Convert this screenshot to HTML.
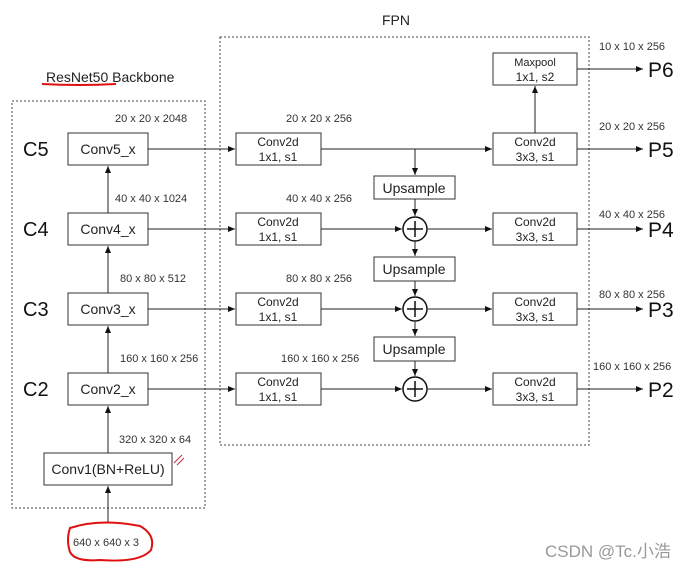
<!DOCTYPE html>
<html><head><meta charset="utf-8"><style>
html,body{margin:0;padding:0;background:#fff;}
svg{display:block;font-family:"Liberation Sans",Arial,sans-serif;}
</style></head><body>
<svg width="695" height="569" viewBox="0 0 695 569" xmlns="http://www.w3.org/2000/svg">
<defs>
<marker id="a" markerWidth="8" markerHeight="8" refX="7" refY="4" orient="auto" markerUnits="userSpaceOnUse">
<path d="M0,1 L7,4 L0,7 z" fill="#111"/></marker>
</defs>
<rect width="695" height="569" fill="#fff"/>
<rect x="220" y="37" width="369" height="408" fill="none" stroke="#444" stroke-width="1" stroke-dasharray="2,2"/>
<rect x="12" y="101" width="193" height="407" fill="none" stroke="#444" stroke-width="1" stroke-dasharray="2,2"/>
<text x="396" y="25" font-size="14" text-anchor="middle" fill="#222">FPN</text>
<text x="46" y="82" font-size="14" fill="#222">ResNet50 Backbone</text>
<path d="M42,84 Q80,86 116,84" stroke="#e01010" stroke-width="2" fill="none"/>

<g fill="#fff" stroke="#333" stroke-width="1">
<rect x="68" y="133" width="80" height="32"/>
<rect x="68" y="213" width="80" height="32"/>
<rect x="68" y="293" width="80" height="32"/>
<rect x="68" y="373" width="80" height="32"/>
<rect x="44" y="453" width="128" height="32"/>
<rect x="236" y="133" width="85" height="32"/>
<rect x="236" y="213" width="85" height="32"/>
<rect x="236" y="293" width="85" height="32"/>
<rect x="236" y="373" width="85" height="32"/>
<rect x="493" y="133" width="84" height="32"/>
<rect x="493" y="213" width="84" height="32"/>
<rect x="493" y="293" width="84" height="32"/>
<rect x="493" y="373" width="84" height="32"/>
<rect x="493" y="53" width="84" height="32"/>
<rect x="374" y="176" width="81" height="23"/>
<rect x="374" y="257" width="81" height="24"/>
<rect x="374" y="337" width="81" height="24"/>
</g>

<g stroke="#222" stroke-width="1" fill="none">
<line x1="108" y1="213" x2="108" y2="166" marker-end="url(#a)"/>
<line x1="108" y1="293" x2="108" y2="246" marker-end="url(#a)"/>
<line x1="108" y1="373" x2="108" y2="326" marker-end="url(#a)"/>
<line x1="108" y1="453" x2="108" y2="406" marker-end="url(#a)"/>
<line x1="108" y1="522" x2="108" y2="486" marker-end="url(#a)"/>
<line x1="148" y1="149" x2="235" y2="149" marker-end="url(#a)"/>
<line x1="148" y1="229" x2="235" y2="229" marker-end="url(#a)"/>
<line x1="148" y1="309" x2="235" y2="309" marker-end="url(#a)"/>
<line x1="148" y1="389" x2="235" y2="389" marker-end="url(#a)"/>
<line x1="321" y1="149" x2="492" y2="149" marker-end="url(#a)"/>
<line x1="415" y1="149" x2="415" y2="175" marker-end="url(#a)"/>
<line x1="415" y1="199" x2="415" y2="216" marker-end="url(#a)"/>
<line x1="415" y1="241" x2="415" y2="256" marker-end="url(#a)"/>
<line x1="415" y1="281" x2="415" y2="296" marker-end="url(#a)"/>
<line x1="415" y1="322" x2="415" y2="336" marker-end="url(#a)"/>
<line x1="415" y1="361" x2="415" y2="376" marker-end="url(#a)"/>
<line x1="321" y1="229" x2="402" y2="229" marker-end="url(#a)"/>
<line x1="321" y1="309" x2="402" y2="309" marker-end="url(#a)"/>
<line x1="321" y1="389" x2="402" y2="389" marker-end="url(#a)"/>
<line x1="428" y1="229" x2="492" y2="229" marker-end="url(#a)"/>
<line x1="428" y1="309" x2="492" y2="309" marker-end="url(#a)"/>
<line x1="428" y1="389" x2="492" y2="389" marker-end="url(#a)"/>
<line x1="535" y1="133" x2="535" y2="86" marker-end="url(#a)"/>
<line x1="577" y1="69" x2="643" y2="69" marker-end="url(#a)"/>
<line x1="577" y1="149" x2="643" y2="149" marker-end="url(#a)"/>
<line x1="577" y1="229" x2="643" y2="229" marker-end="url(#a)"/>
<line x1="577" y1="309" x2="643" y2="309" marker-end="url(#a)"/>
<line x1="577" y1="389" x2="643" y2="389" marker-end="url(#a)"/>
</g>
<g stroke="#111" stroke-width="1.5" fill="#fff">
<circle cx="415" cy="229" r="12"/>
<circle cx="415" cy="309" r="12"/>
<circle cx="415" cy="389" r="12"/>
</g>
<g stroke="#111" stroke-width="1.5">
<line x1="407" y1="229" x2="423" y2="229"/><line x1="415" y1="221" x2="415" y2="237"/>
<line x1="407" y1="309" x2="423" y2="309"/><line x1="415" y1="301" x2="415" y2="317"/>
<line x1="407" y1="389" x2="423" y2="389"/><line x1="415" y1="381" x2="415" y2="397"/>
</g>

<g font-size="14" fill="#222" text-anchor="middle">
<text x="108" y="154">Conv5_x</text>
<text x="108" y="234">Conv4_x</text>
<text x="108" y="314">Conv3_x</text>
<text x="108" y="394">Conv2_x</text>
<text x="108" y="474">Conv1(BN+ReLU)</text>
<text x="414" y="193">Upsample</text>
<text x="414" y="274">Upsample</text>
<text x="414" y="354">Upsample</text>
</g>
<g font-size="20" fill="#111">
<text x="23" y="156">C5</text>
<text x="23" y="236">C4</text>
<text x="23" y="316">C3</text>
<text x="23" y="396">C2</text>
<text x="648" y="77" font-size="21">P6</text>
<text x="648" y="157" font-size="21">P5</text>
<text x="648" y="237" font-size="21">P4</text>
<text x="648" y="317" font-size="21">P3</text>
<text x="648" y="397" font-size="21">P2</text>
</g>
<g font-size="12" fill="#222" text-anchor="middle">
<text x="278" y="146">Conv2d</text><text x="278" y="161">1x1, s1</text>
<text x="278" y="226">Conv2d</text><text x="278" y="241">1x1, s1</text>
<text x="278" y="306">Conv2d</text><text x="278" y="321">1x1, s1</text>
<text x="278" y="386">Conv2d</text><text x="278" y="401">1x1, s1</text>
<text x="535" y="146">Conv2d</text><text x="535" y="161">3x3, s1</text>
<text x="535" y="226">Conv2d</text><text x="535" y="241">3x3, s1</text>
<text x="535" y="306">Conv2d</text><text x="535" y="321">3x3, s1</text>
<text x="535" y="386">Conv2d</text><text x="535" y="401">3x3, s1</text>
<text x="535" y="66" font-size="11">Maxpool</text><text x="535" y="81">1x1, s2</text>
</g>
<g font-size="11" fill="#333">
<text x="115" y="122">20 x 20 x 2048</text>
<text x="115" y="202">40 x 40 x 1024</text>
<text x="120" y="282">80 x 80 x 512</text>
<text x="120" y="362">160 x 160 x 256</text>
<text x="119" y="443">320 x 320 x 64</text>
<text x="286" y="122">20 x 20 x 256</text>
<text x="286" y="202">40 x 40 x 256</text>
<text x="286" y="282">80 x 80 x 256</text>
<text x="281" y="362">160 x 160 x 256</text>
<text x="599" y="50">10 x 10 x 256</text>
<text x="599" y="130">20 x 20 x 256</text>
<text x="599" y="218">40 x 40 x 256</text>
<text x="599" y="298">80 x 80 x 256</text>
<text x="593" y="370">160 x 160 x 256</text>
<text x="73" y="546">640 x 640 x 3</text>
</g>
<path d="M70,528 Q100,518 140,526 Q156,535 151,550 Q140,563 100,560 Q75,562 70,552 Q66,540 70,528 z" fill="none" stroke="#e01010" stroke-width="2"/>
<path d="M174,463 L182,455 M177,465 L184,458" stroke="#c03050" stroke-width="1"/>
<text x="545" y="557" font-size="17" fill="#999" font-family="'Liberation Sans','Noto Sans CJK SC',sans-serif">CSDN @Tc.小浩</text>
</svg>
</body></html>
